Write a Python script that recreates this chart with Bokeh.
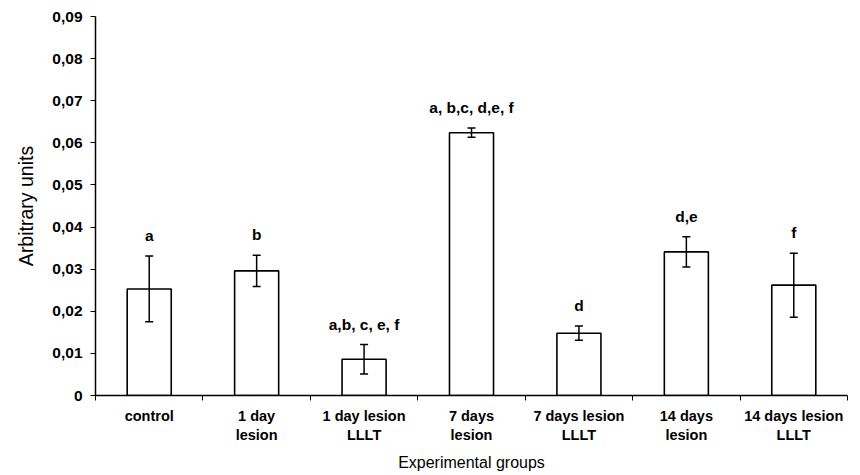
from bokeh.plotting import figure
from bokeh.models import ColumnDataSource, FixedTicker, Whisker, TeeHead
from bokeh.core.properties import value
from bokeh.embed import file_html
from bokeh.resources import INLINE

groups = ["control", "1 day\nlesion", "1 day lesion\nLLLT", "7 days\nlesion",
          "7 days lesion\nLLLT", "14 days\nlesion", "14 days lesion\nLLLT"]
means = [0.0253, 0.0296, 0.0086, 0.0624, 0.0148, 0.0341, 0.0262]
errors = [0.0078, 0.0037, 0.0035, 0.0011, 0.0017, 0.0036, 0.0076]
letters = ["a", "b", "a,b, c, e, f", "a, b,c, d,e, f", "d", "d,e", "f"]
y_ticks = [0, 0.01, 0.02, 0.03, 0.04, 0.05, 0.06, 0.07, 0.08, 0.09]
y_tick_labels = ["0", "0,01", "0,02", "0,03", "0,04", "0,05", "0,06", "0,07", "0,08", "0,09"]

xs = [i + 0.5 for i in range(len(groups))]
src = ColumnDataSource(dict(
    x=xs, m=means,
    upper=[m + e for m, e in zip(means, errors)],
    lower=[m - e for m, e in zip(means, errors)],
    lab=letters,
))

FONT = "Liberation Sans"

p = figure(width=852, height=473, x_range=(0, len(groups)), y_range=(0, 0.09),
           output_backend="svg", toolbar_location=None,
           min_border_left=95, min_border_top=16, min_border_right=5, min_border_bottom=78)
p.outline_line_color = None
p.grid.grid_line_color = None
p.background_fill_color = "white"

p.vbar(x="x", top="m", width=0.41, bottom=0, source=src,
       fill_color="white", line_color="black", line_width=1.6)

w = Whisker(base="x", upper="upper", lower="lower", source=src,
            line_color="black", line_width=1.5, level="overlay",
            upper_head=TeeHead(size=8, line_color="black", line_width=1.5),
            lower_head=TeeHead(size=8, line_color="black", line_width=1.5))
p.add_layout(w)

p.text(x="x", y="upper", text="lab", source=src, text_align="center",
       text_baseline="bottom", y_offset=-12, text_font=value(FONT),
       text_font_style="bold", text_font_size="15.5px", text_color="black")

# x axis
p.xaxis.ticker = FixedTicker(ticks=xs, minor_ticks=list(range(len(groups) + 1)))
p.xaxis.major_label_overrides = {x: g for x, g in zip(xs, groups)}
p.xaxis.major_tick_line_color = None
p.xaxis.minor_tick_line_color = "black"
p.xaxis.minor_tick_in = 0
p.xaxis.minor_tick_out = 5
p.xaxis.axis_line_color = "black"
p.xaxis.axis_line_width = 1.5
p.xaxis.major_label_standoff = 6
p.xaxis.axis_label = "Experimental groups"
p.xaxis.axis_label_standoff = 8

# y axis
p.yaxis.ticker = FixedTicker(ticks=y_ticks, minor_ticks=[])
p.yaxis.major_label_overrides = {t: l for t, l in zip(y_ticks, y_tick_labels)}
p.yaxis.major_tick_in = 0
p.yaxis.major_tick_out = 5
p.yaxis.major_tick_line_color = "black"
p.yaxis.axis_line_color = "black"
p.yaxis.axis_line_width = 1.5
p.yaxis.major_label_standoff = 8
p.yaxis.axis_label = "Arbitrary units"
p.yaxis.axis_label_standoff = 12

for ax in (p.xaxis, p.yaxis):
    ax.major_label_text_font = FONT
    ax.major_label_text_font_style = "bold"
    ax.major_label_text_font_size = "14.5px"
    ax.major_label_text_color = "black"
    ax.axis_label_text_font = FONT
    ax.axis_label_text_font_style = "normal"
    ax.axis_label_text_font_size = "16px"
    ax.axis_label_text_color = "black"
p.yaxis.major_label_text_font_size = "15.5px"
p.yaxis.axis_label_text_font_size = "19.5px"

open("out.html", "w").write(file_html(p, INLINE))
